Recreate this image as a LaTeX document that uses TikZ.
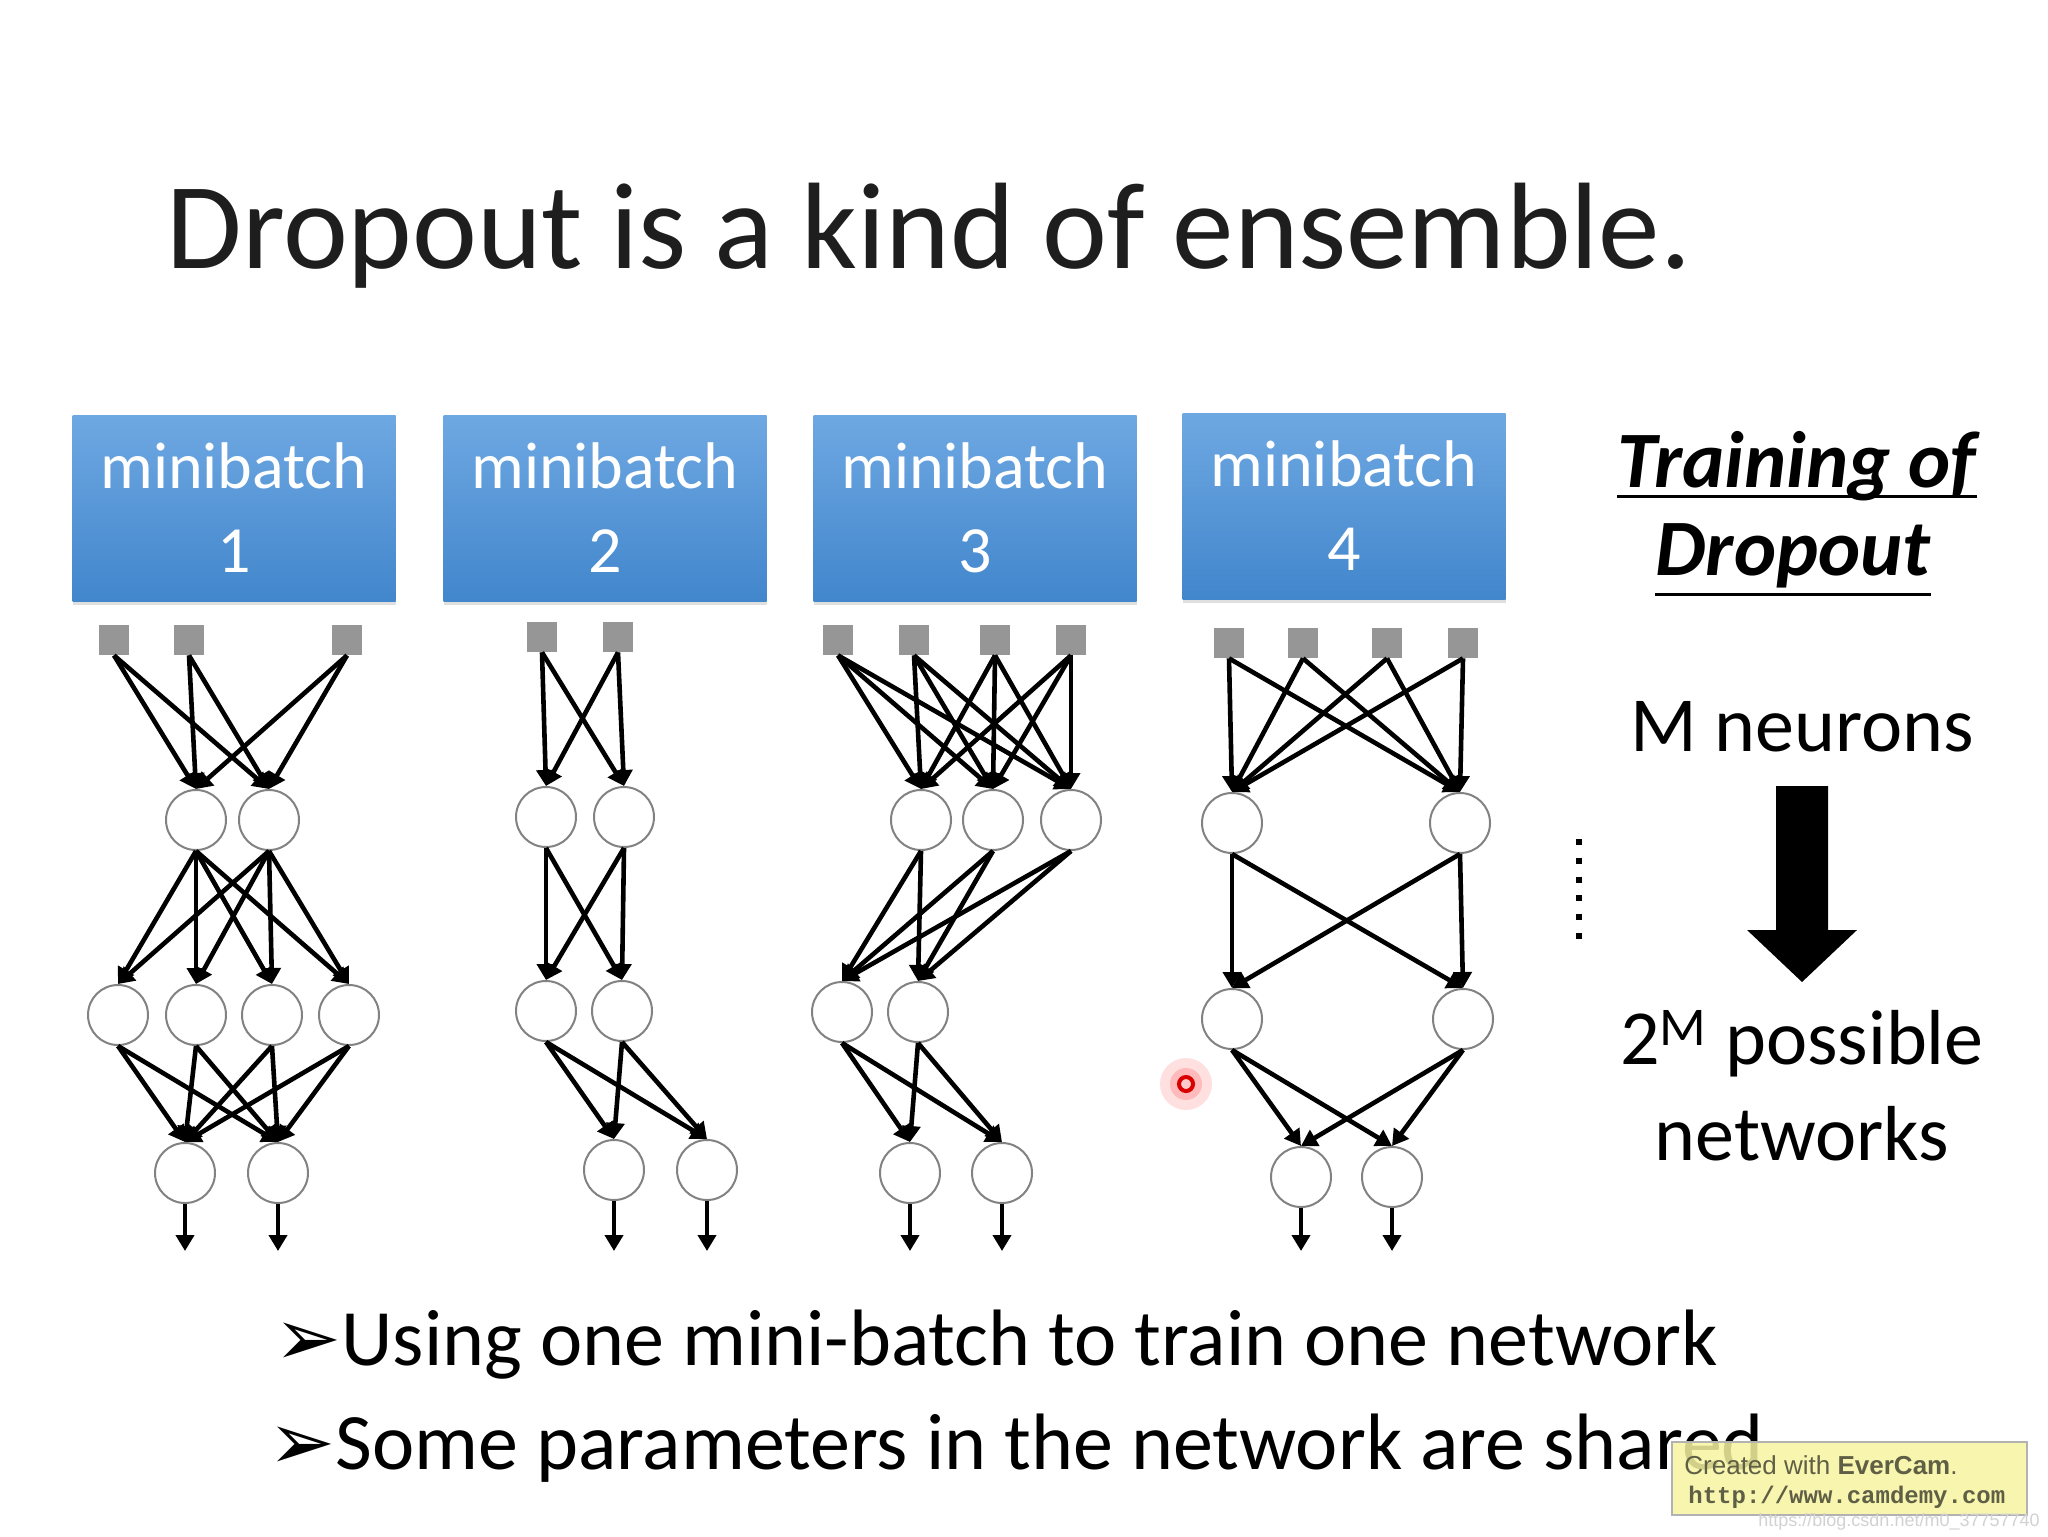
\documentclass[tikz,border=0pt]{standalone}
\usepackage{fontspec}
\setmainfont{Carlito}
\newfontfamily\dejavu{DejaVu Sans}
\newfontfamily\libsans{Liberation Sans}
\newfontfamily\libmono{Liberation Mono}
\usetikzlibrary{arrows.meta,shadows}
\definecolor{boxtop}{RGB}{110,168,226}
\definecolor{boxbot}{RGB}{66,134,204}
\definecolor{inpgray}{RGB}{150,150,150}
\definecolor{circgray}{RGB}{130,130,130}
\definecolor{titlecol}{RGB}{30,30,30}
\definecolor{wmyellow}{RGB}{246,244,160}
\definecolor{wmtext}{RGB}{95,95,70}
\begin{document}
\begin{tikzpicture}[x=0.5pt,y=-0.5pt,
  inp/.style={rectangle,fill=inpgray,minimum size=15pt,inner sep=0pt},
  neu/.style={circle,draw=circgray,line width=1pt,fill=white,minimum size=30pt,inner sep=0pt},
  conn/.style={line width=2.3pt,-{Triangle[length=8pt,width=9pt]}},
  mbox/.style={rectangle,minimum width=161.5pt,minimum height=93pt,top color=boxtop,bottom color=boxbot,
     text=white,font=\fontsize{33}{42}\selectfont,align=center,
     drop shadow={shadow xshift=0pt,shadow yshift=-2pt,opacity=0.25}},
  side/.style={anchor=base,inner sep=0pt,font=\fontsize{39}{46}\selectfont,text=black},
  bul/.style={anchor=base west,inner sep=0pt,font=\fontsize{40}{46}\selectfont,text=black}
]
\useasboundingbox (0,0) rectangle (2048,1536);
\fill[white] (0,0) rectangle (2048,1536);

% title
\node[anchor=base west,inner sep=0pt,text=titlecol,font=\fontsize{61.5}{70}\selectfont] (title) at (166,268) {Dropout is a kind of ensemble.};

% minibatch boxes
\node[mbox] (mb1) at (234,508) {minibatch\\1};
\node[mbox] (mb2) at (605,508) {minibatch\\2};
\node[mbox] (mb3) at (975,508) {minibatch\\3};
\node[mbox] (mb4) at (1344,506) {minibatch\\4};

% ---------- network 1
\node[inp] (n1i1) at (114,640) {};
\node[inp] (n1i2) at (189,640) {};
\node[inp] (n1i3) at (347,640) {};
\node[neu] (n1a1) at (196,820) {};
\node[neu] (n1a2) at (269,820) {};
\node[neu] (n1b1) at (118,1015) {};
\node[neu] (n1b2) at (196,1015) {};
\node[neu] (n1b3) at (272,1015) {};
\node[neu] (n1b4) at (349,1015) {};
\node[neu] (n1o1) at (185,1173) {};
\node[neu] (n1o2) at (278,1173) {};
\coordinate (n1e1) at (185,1251);
\coordinate (n1e2) at (278,1251);
\foreach \s in {n1i1,n1i2,n1i3} \foreach \t in {n1a1,n1a2} \draw[conn] (\s.south) -- (\t.north);
\foreach \s in {n1a1,n1a2} \foreach \t in {n1b1,n1b2,n1b3,n1b4} \draw[conn] (\s.south) -- (\t.north);
\foreach \s in {n1b1,n1b2,n1b3,n1b4} \foreach \t in {n1o1,n1o2} \draw[conn] (\s.south) -- (\t.north);
\draw[conn] (n1o1.south) -- (n1e1);
\draw[conn] (n1o2.south) -- (n1e2);

% ---------- network 2
\node[inp] (n2i1) at (542,637) {};
\node[inp] (n2i2) at (618,637) {};
\node[neu] (n2a1) at (546,817) {};
\node[neu] (n2a2) at (624,817) {};
\node[neu] (n2b1) at (546,1011) {};
\node[neu] (n2b2) at (622,1011) {};
\node[neu] (n2o1) at (614,1170) {};
\node[neu] (n2o2) at (707,1170) {};
\coordinate (n2e1) at (614,1251);
\coordinate (n2e2) at (707,1251);
\foreach \s in {n2i1,n2i2} \foreach \t in {n2a1,n2a2} \draw[conn] (\s.south) -- (\t.north);
\foreach \s in {n2a1,n2a2} \foreach \t in {n2b1,n2b2} \draw[conn] (\s.south) -- (\t.north);
\foreach \s in {n2b1,n2b2} \foreach \t in {n2o1,n2o2} \draw[conn] (\s.south) -- (\t.north);
\draw[conn] (n2o1.south) -- (n2e1);
\draw[conn] (n2o2.south) -- (n2e2);

% ---------- network 3
\node[inp] (n3i1) at (838,640) {};
\node[inp] (n3i2) at (914,640) {};
\node[inp] (n3i3) at (995,640) {};
\node[inp] (n3i4) at (1071,640) {};
\node[neu] (n3a1) at (921,820) {};
\node[neu] (n3a2) at (993,820) {};
\node[neu] (n3a3) at (1071,820) {};
\node[neu] (n3b1) at (842,1012) {};
\node[neu] (n3b2) at (918,1012) {};
\node[neu] (n3o1) at (910,1173) {};
\node[neu] (n3o2) at (1002,1173) {};
\coordinate (n3e1) at (910,1251);
\coordinate (n3e2) at (1002,1251);
\foreach \s in {n3i1,n3i2,n3i3,n3i4} \foreach \t in {n3a1,n3a2,n3a3} \draw[conn] (\s.south) -- (\t.north);
\foreach \s in {n3a1,n3a2,n3a3} \foreach \t in {n3b1,n3b2} \draw[conn] (\s.south) -- (\t.north);
\foreach \s in {n3b1,n3b2} \foreach \t in {n3o1,n3o2} \draw[conn] (\s.south) -- (\t.north);
\draw[conn] (n3o1.south) -- (n3e1);
\draw[conn] (n3o2.south) -- (n3e2);

% ---------- network 4
\node[inp] (n4i1) at (1229,643) {};
\node[inp] (n4i2) at (1303,643) {};
\node[inp] (n4i3) at (1387,643) {};
\node[inp] (n4i4) at (1463,643) {};
\node[neu] (n4a1) at (1232,823) {};
\node[neu] (n4a2) at (1460,823) {};
\node[neu] (n4b1) at (1232,1019) {};
\node[neu] (n4b2) at (1463,1019) {};
\node[neu] (n4o1) at (1301,1177) {};
\node[neu] (n4o2) at (1392,1177) {};
\coordinate (n4e1) at (1301,1251);
\coordinate (n4e2) at (1392,1251);
\foreach \s in {n4i1,n4i2,n4i3,n4i4} \foreach \t in {n4a1,n4a2} \draw[conn] (\s.south) -- (\t.north);
\foreach \s in {n4a1,n4a2} \foreach \t in {n4b1,n4b2} \draw[conn] (\s.south) -- (\t.north);
\foreach \s in {n4b1,n4b2} \foreach \t in {n4o1,n4o2} \draw[conn] (\s.south) -- (\t.north);
\draw[conn] (n4o1.south) -- (n4e1);
\draw[conn] (n4o2.south) -- (n4e2);

% dots
\draw[line width=3pt,dash pattern=on 3pt off 6.4pt] (1579,839) -- (1579,939);

% right side
\node[side,font=\fontsize{40}{48}\selectfont\bfseries\itshape] (tr1) at (1797,487) {Training of};
\node[side,font=\fontsize{40}{48}\selectfont\bfseries\itshape] (tr2) at (1793,575) {Dropout};
\draw[line width=1.5pt] ([yshift=-4.5pt]tr1.base west) -- ([yshift=-4.5pt]tr1.base east);
\draw[line width=1.5pt] ([yshift=-9.5pt]tr2.base west) -- ([yshift=-9.5pt]tr2.base east);
\node[side] (mn) at (1802,751) {M neurons};
\fill[black] (1776,786) -- (1828,786) -- (1828,930) -- (1857,930) -- (1802,982) -- (1747,930) -- (1776,930) -- cycle;
\node[side] (poss) at (1802,1064) {2\textsuperscript{M} possible};
\node[side] (netw) at (1802,1160) {networks};

% laser pointer dot
\fill[red!60,opacity=0.2] (1186,1084) circle (13pt);
\fill[red!60,opacity=0.3] (1186,1084) circle (8pt);
\draw[red!85!black,line width=2pt,fill=white!80!red] (1186,1084) circle (3.5pt);

% bullets
\node[bul] (bl1) at (274,1365) {{\dejavu\fontsize{40}{46}\selectfont ➢}Using one mini-batch to train one network};
\node[bul] (bl2) at (268,1469) {{\dejavu\fontsize{40}{46}\selectfont ➢}Some parameters in the network are shared};

% watermark
\node[draw=gray!60,line width=1pt,fill=wmyellow,fill opacity=0.85,minimum width=177.5pt,minimum height=36.5pt,inner sep=0pt] (wm) at (1849.5,1478.5) {};
\node[anchor=base west,inner sep=0pt,text=wmtext,font=\libsans\fontsize{13}{15}\selectfont] (wm1) at (1684,1474) {Created with \textbf{EverCam}.};
\node[anchor=base west,inner sep=0pt,text=wmtext,font=\libmono\bfseries\fontsize{12}{14}\selectfont] (wm2) at (1688,1503) {http://www.camdemy.com};
\node[anchor=base east,inner sep=0pt,text=gray!35,font=\libsans\fontsize{9}{10}\selectfont] (csdn) at (2040,1526) {https://blog.csdn.net/m0\_37757740};
\end{tikzpicture}
\end{document}
